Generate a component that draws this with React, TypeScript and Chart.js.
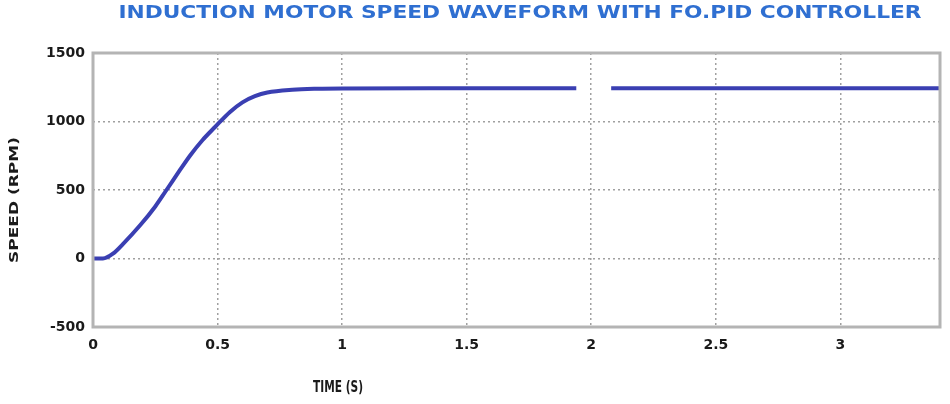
import React, { useEffect, useRef } from "react";
import { Chart, registerables } from "chart.js";

Chart.register(...registerables);

const TITLE = "INDUCTION MOTOR SPEED WAVEFORM WITH FO.PID CONTROLLER";
const X_LABEL = "TIME (S)";
const Y_LABEL = "SPEED (RPM)";

const times: number[] = [0, 0.04, 0.08, 0.12, 0.19, 0.25, 0.295, 0.35, 0.39, 0.44, 0.49, 0.55, 0.6, 0.65, 0.7, 0.8, 0.9, 1.0, 1.5, 1.94, 2.0, 2.08, 3.4];
const speed: (number | null)[] = [0, 0, 35, 105, 244, 380, 500, 648, 752, 865, 960, 1070, 1140, 1185, 1212, 1232, 1239, 1241, 1242, 1242, null, 1242, 1242];

const xTicks: number[] = [0, 0.5, 1, 1.5, 2, 2.5, 3];
const yTicks: number[] = [-500, 0, 500, 1000, 1500];

const textPlugin = {
  id: "textPlugin",
  beforeDraw(chart: any) {
    const ctx = chart.ctx;
    ctx.save();
    ctx.fillStyle = "#ffffff";
    ctx.fillRect(0, 0, chart.width, chart.height);
    ctx.restore();
  },
  afterDraw(chart: any) {
    const ctx = chart.ctx;
    const { left, right, top, bottom } = chart.chartArea;
    ctx.save();
    ctx.strokeStyle = "#b4b4b4";
    ctx.lineWidth = 3;
    ctx.strokeRect(left, top, right - left, bottom - top);
    ctx.restore();

    const drawFit = (text: string, cx: number, cy: number, width: number, font: string, color: string, rot = 0) => {
      ctx.save();
      ctx.font = font;
      ctx.fillStyle = color;
      ctx.textAlign = "center";
      ctx.textBaseline = "middle";
      const w = ctx.measureText(text).width;
      ctx.translate(cx, cy);
      if (rot) ctx.rotate(rot);
      ctx.scale(width / w, 1);
      ctx.fillText(text, 0, 0);
      ctx.restore();
    };
    drawFit(TITLE, 520, 14, 803, "bold 17px 'DejaVu Sans'", "#2f6fd1");
    drawFit(X_LABEL, 338, 388, 50, "bold 15px 'DejaVu Sans'", "#1a1a1a");
    drawFit(Y_LABEL, 15, 200, 126, "bold 13px 'DejaVu Sans'", "#1a1a1a", -Math.PI / 2);
  },
};

export default function App() {
  const ref = useRef<HTMLCanvasElement | null>(null);
  useEffect(() => {
    document.body.style.margin = "0";
    const canvas = ref.current!;
    const points = times.map((t, i) => ({ x: t, y: speed[i] }));
    const chart = new Chart(canvas, {
      type: "line",
      data: {
        datasets: [
          {
            data: points as any,
            borderColor: "#3a3fb2",
            borderWidth: 4,
            pointRadius: 0,
            fill: false,
            spanGaps: false,
            cubicInterpolationMode: "monotone",
          },
        ],
      },
      options: {
        animation: false,
        responsive: false,
        maintainAspectRatio: false,
        layout: { padding: { left: 0, top: 53, right: 10, bottom: 0 } },
        plugins: { legend: { display: false }, tooltip: { enabled: false }, title: { display: false } },
        scales: {
          x: {
            type: "linear",
            min: 0,
            max: 3.4,
            afterBuildTicks: (s: any) => {
              s.ticks = xTicks.map((v) => ({ value: v }));
            },
            afterFit: (s: any) => {
              s.height = 77;
            },
            ticks: {
              color: "#1a1a1a",
              font: { family: "'DejaVu Sans'", weight: "bold", size: 14 },
              padding: 10,
              maxRotation: 0,
              autoSkip: false,
              callback: (v: any) => String(v),
            },
            grid: { color: "#a0a0a0", lineWidth: 1.5, tickLength: 0 },
            border: { display: false, dash: [2, 3] },
          },
          y: {
            min: -500,
            max: 1500,
            afterBuildTicks: (s: any) => {
              s.ticks = yTicks.map((v) => ({ value: v }));
            },
            afterFit: (s: any) => {
              s.width = 93;
            },
            ticks: {
              color: "#1a1a1a",
              font: { family: "'DejaVu Sans'", weight: "bold", size: 14 },
              padding: 8,
              callback: (v: any) => String(v),
            },
            grid: { color: "#a0a0a0", lineWidth: 1.5, tickLength: 0 },
            border: { display: false, dash: [2, 3] },
          },
        },
      },
      plugins: [textPlugin],
    } as any);
    return () => chart.destroy();
  }, []);
  return <canvas ref={ref} width={950} height={404} style={{ display: "block" }} />;
}
